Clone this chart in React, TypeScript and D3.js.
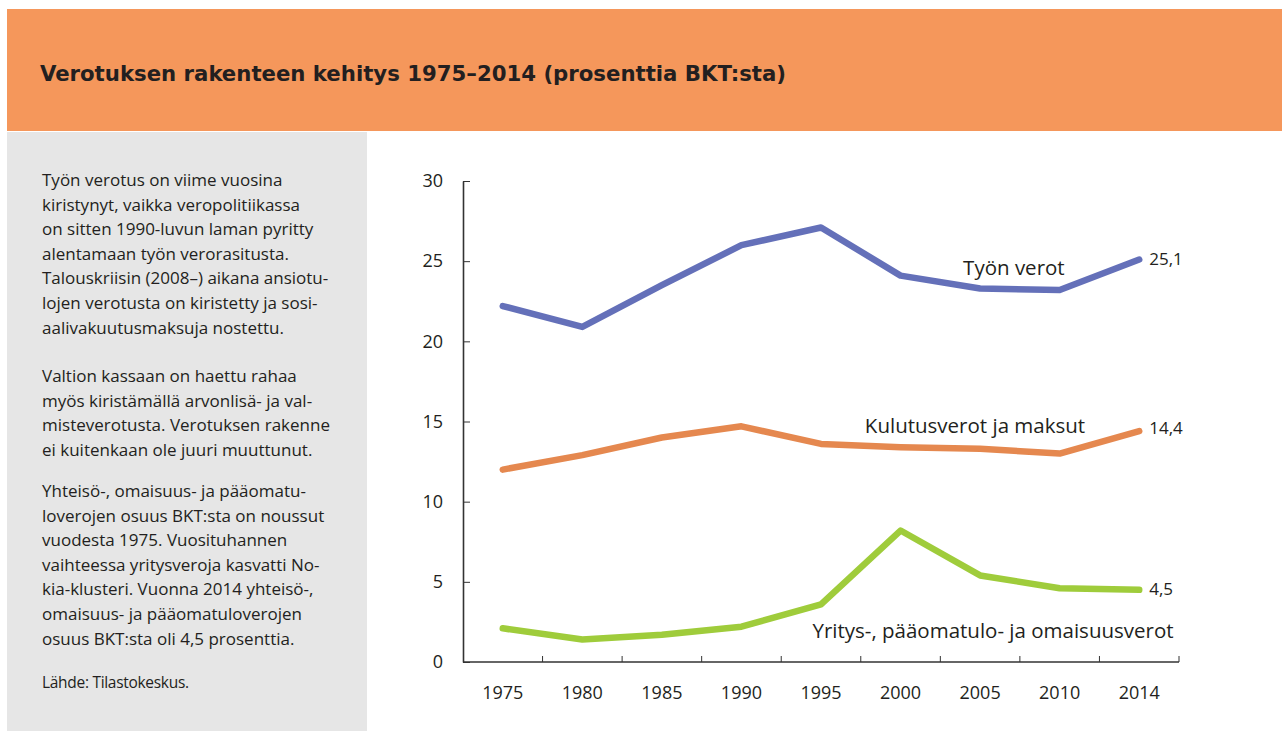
import React, { useEffect, useRef } from 'react';
import * as d3 from 'd3';

// Data (percent of GDP)
const years = ['1975', '1980', '1985', '1990', '1995', '2000', '2005', '2010', '2014'];
const tyonVerot = [22.2, 20.9, 23.5, 26.0, 27.1, 24.1, 23.3, 23.2, 25.1];
const kulutusVerot = [12.0, 12.9, 14.0, 14.7, 13.6, 13.4, 13.3, 13.0, 14.4];
const yritysVerot = [2.1, 1.4, 1.7, 2.2, 3.6, 8.2, 5.4, 4.6, 4.5];
const yTicks = [0, 5, 10, 15, 20, 25, 30];

const title = 'Verotuksen rakenteen kehitys 1975–2014 (prosenttia BKT:sta)';

const paragraphs = [
  [
    'Työn verotus on viime vuosina',
    'kiristynyt, vaikka veropolitiikassa',
    'on sitten 1990-luvun laman pyritty',
    'alentamaan työn verorasitusta.',
    'Talouskriisin (2008–) aikana ansiotu-',
    'lojen verotusta on kiristetty ja sosi-',
    'aalivakuutusmaksuja nostettu.',
  ],
  [
    'Valtion kassaan on haettu rahaa',
    'myös kiristämällä arvonlisä- ja val-',
    'misteverotusta. Verotuksen rakenne',
    'ei kuitenkaan ole juuri muuttunut.',
  ],
  [
    'Yhteisö-, omaisuus- ja pääomatu-',
    'loverojen osuus BKT:sta on noussut',
    'vuodesta 1975.  Vuosituhannen',
    'vaihteessa yritysveroja kasvatti No-',
    'kia-klusteri. Vuonna 2014 yhteisö-,',
    'omaisuus- ja pääomatuloverojen',
    'osuus BKT:sta oli 4,5 prosenttia.',
  ],
];
const source = 'Lähde: Tilastokeskus.';

const FONT = '"Open Sans", "Noto Sans", sans-serif';

const App = () => {
  const svgRef = useRef<SVGSVGElement>(null);

  useEffect(() => {
    const W = 1282, H = 731;
    const svg = d3.select(svgRef.current);
    svg.selectAll('*').remove();
    svg.attr('width', W).attr('height', H).style('background', 'white');

    // header band
    svg.append('rect').attr('x', 7).attr('y', 9).attr('width', W - 7).attr('height', 122).attr('fill', '#F5975B');
    svg.append('text')
      .attr('x', 40).attr('y', 81)
      .attr('font-family', '"Liberation Sans Narrow", "DejaVu Sans Condensed", Roboto, sans-serif')
      .attr('font-weight', 'bold')
      .attr('font-size', 22)
      .attr('fill', '#231F20')
      .attr('textLength', 746)
      .attr('lengthAdjust', 'spacingAndGlyphs')
      .text(title);

    // side panel
    svg.append('rect').attr('x', 7).attr('y', 132).attr('width', 360).attr('height', H - 132).attr('fill', '#E6E6E6');
    const paraStarts = [186, 382, 497];
    const lineH = 24.6;
    paragraphs.forEach((lines, pi) => {
      lines.forEach((line, li) => {
        svg.append('text')
          .attr('x', 42).attr('y', paraStarts[pi] + li * lineH)
          .attr('font-family', FONT).attr('font-size', 17).attr('fill', '#231F20')
          .text(line);
      });
    });
    svg.append('text')
      .attr('x', 42).attr('y', 688)
      .attr('font-family', FONT).attr('font-size', 15.5).attr('fill', '#231F20')
      .attr('letter-spacing', -0.3)
      .text(source);

    // chart
    const x = d3.scaleBand().domain(years).range([463, 1179]).padding(0);
    const y = d3.scaleLinear().domain([0, 30]).range([662, 181]);
    const cx = (yr: string) => (x(yr) as number) + x.bandwidth() / 2;

    const yAxis = svg.append('g')
      .attr('transform', 'translate(463,0)')
      .call(d3.axisLeft(y).tickValues(yTicks).tickSizeInner(-7).tickSizeOuter(0).tickPadding(20));
    yAxis.select('.domain').attr('stroke', '#333').attr('stroke-width', 1.6);
    yAxis.selectAll('.tick line').attr('stroke', '#333').attr('stroke-width', 1);
    yAxis.selectAll('.tick text')
      .attr('font-family', FONT).attr('font-size', 18).attr('fill', '#231F20');

    // x axis: ticks at band boundaries, labels at band centres
    const xg = svg.append('g');
    xg.append('line')
      .attr('x1', 463).attr('x2', 1179).attr('y1', y(0)).attr('y2', y(0))
      .attr('stroke', '#333').attr('stroke-width', 1.6);
    const bounds = years.slice(1).map(yr => x(yr) as number).concat([x.range()[1]]);
    xg.selectAll('line.tk').data(bounds).enter().append('line')
      .attr('class', 'tk')
      .attr('x1', d => d).attr('x2', d => d)
      .attr('y1', y(0)).attr('y2', y(0) - 6)
      .attr('stroke', '#333').attr('stroke-width', 1);
    xg.selectAll('text').data(years).enter().append('text')
      .attr('x', d => cx(d)).attr('y', 699)
      .attr('text-anchor', 'middle')
      .attr('font-family', FONT).attr('font-size', 18).attr('fill', '#231F20')
      .text(d => d);

    const series = [
      { values: tyonVerot, color: '#6470B9' },
      { values: kulutusVerot, color: '#E5884F' },
      { values: yritysVerot, color: '#9FCC3B' },
    ];
    const line = d3.line<number>()
      .x((_, i) => cx(years[i]))
      .y(d => y(d));
    series.forEach(s => {
      svg.append('path')
        .attr('d', line(s.values))
        .attr('fill', 'none')
        .attr('stroke', s.color)
        .attr('stroke-width', 6.5)
        .attr('stroke-linejoin', 'round')
        .attr('stroke-linecap', 'round');
    });

    // series names
    const names = [
      { text: 'Työn verot', x: (x('2010') as number) - 6, y: y(24.6) },
      { text: 'Kulutusverot ja maksut', x: 975, y: y(14.75) },
      { text: 'Yritys-, pääomatulo- ja omaisuusverot', x: 993, y: y(1.95) },
    ];
    names.forEach(n => {
      svg.append('text')
        .attr('x', n.x).attr('y', n.y).attr('dy', '0.35em')
        .attr('text-anchor', 'middle')
        .attr('font-family', FONT).attr('font-size', 20.5).attr('fill', '#231F20')
        .text(n.text);
    });

    // end values
    const last = years.length - 1;
    const endLabels = [
      { text: '25,1', v: tyonVerot[last], dy: -1 },
      { text: '14,4', v: kulutusVerot[last], dy: -3 },
      { text: '4,5', v: yritysVerot[last], dy: -1 },
    ];
    endLabels.forEach(e => {
      svg.append('text')
        .attr('x', cx(years[last]) + 10).attr('y', y(e.v) + e.dy).attr('dy', '0.35em')
        .attr('font-family', FONT).attr('font-size', 17).attr('fill', '#231F20')
        .text(e.text);
    });
  }, []);

  return <svg ref={svgRef} style={{ position: 'absolute', left: 0, top: 0 }} />;
};

export default App;
